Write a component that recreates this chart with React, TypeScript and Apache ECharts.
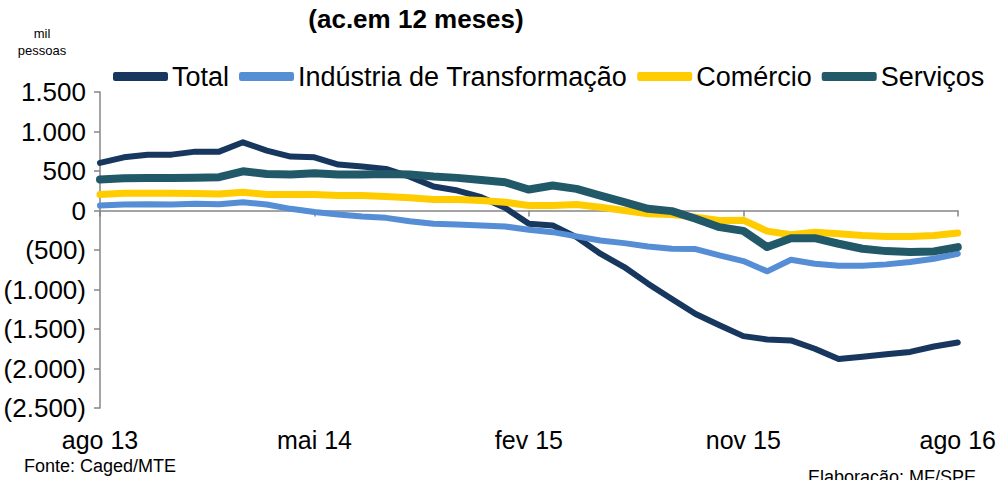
import React, { useEffect, useRef } from "react";
import * as echarts from "echarts";

const months = [
  "ago 13","set 13","out 13","nov 13","dez 13","jan 14","fev 14","mar 14","abr 14",
  "mai 14","jun 14","jul 14","ago 14","set 14","out 14","nov 14","dez 14","jan 15",
  "fev 15","mar 15","abr 15","mai 15","jun 15","jul 15","ago 15","set 15","out 15",
  "nov 15","dez 15","jan 16","fev 16","mar 16","abr 16","mai 16","jun 16","jul 16","ago 16",
];

const total = [602, 673, 707, 707, 745, 745, 863, 758, 682, 673, 581, 556, 527, 429, 303, 253, 168, 34, -168, -189, -337, -547, -716, -926, -1120, -1310, -1452, -1590, -1633, -1645, -1750, -1880, -1850, -1819, -1790, -1722, -1670];
const industria = [63, 76, 80, 76, 84, 80, 105, 76, 21, -20, -51, -76, -93, -135, -168, -177, -189, -202, -244, -274, -328, -379, -413, -455, -484, -488, -568, -640, -770, -623, -674, -699, -699, -682, -653, -611, -547];
const comercio = [202, 219, 219, 219, 215, 210, 231, 202, 202, 202, 189, 189, 177, 160, 139, 139, 126, 105, 63, 63, 76, 42, 0, -42, -51, -84, -126, -122, -261, -307, -274, -295, -316, -328, -328, -316, -286];
const servicos = [391, 408, 410, 410, 415, 421, 496, 463, 455, 470, 455, 455, 463, 455, 429, 413, 387, 358, 265, 316, 274, 189, 105, 21, -8, -105, -211, -258, -463, -350, -350, -421, -484, -514, -526, -518, -463];

const seriesNames = ["Total", "Indústria de Transformação", "Comércio", "Serviços"];
const seriesColors = ["#17375E", "#558ED5", "#FFCC00", "#215968"];
const seriesWidths = [6, 6, 7, 8];

const FONT = "'Liberation Sans', Arial, sans-serif";

function fmt(v: number): string {
  const a = Math.abs(v);
  const s = a.toString().replace(/\B(?=(\d{3})+(?!\d))/g, ".");
  return v < 0 ? "(" + s + ")" : s;
}

export default function App() {
  const ref = useRef<HTMLDivElement>(null);
  useEffect(() => {
    if (!ref.current) return;
    const chart = echarts.init(ref.current, null, { renderer: "svg" });
    const data = [total, industria, comercio, servicos];
    chart.setOption({
      animation: false,
      backgroundColor: "#ffffff",
      textStyle: { fontFamily: FONT },
      graphic: [
        {
          type: "text",
          x: 416,
          y: 6,
          style: { text: "(ac.em 12 meses)", font: `bold 26px ${FONT}`, fill: "#000", textAlign: "center" },
        },
        {
          type: "text",
          x: 42,
          y: 25,
          style: { text: "mil\npessoas", font: `13px ${FONT}`, fill: "#000", textAlign: "center", lineHeight: 17 },
        },
        {
          type: "text",
          x: 24,
          y: 457,
          style: { text: "Fonte: Caged/MTE", font: `18px ${FONT}`, fill: "#000" },
        },
        {
          type: "text",
          x: 808,
          y: 468,
          style: { text: "Elaboração: MF/SPE", font: `18px ${FONT}`, fill: "#000" },
        },
      ],
      legend: {
        left: 108,
        top: 58,
        itemWidth: 55,
        itemHeight: 9,
        itemGap: 10,
        icon: "roundRect",
        textStyle: { fontSize: 27, color: "#000", fontFamily: FONT, padding: [0, 0, 0, -1] },
        data: seriesNames,
      },
      grid: { left: 100, right: 41, top: 92, bottom: 72, containLabel: false },
      xAxis: [
        {
          type: "category",
          data: months,
          boundaryGap: false,
          axisLine: { onZero: true, lineStyle: { color: "#868686", width: 1.5 } },
          axisTick: { show: true, interval: 8, length: 6, lineStyle: { color: "#868686", width: 1.5 } },
          axisLabel: { show: false },
          splitLine: { show: false },
        },
        {
          type: "category",
          data: months,
          boundaryGap: false,
          position: "bottom",
          axisLine: { show: false, onZero: false },
          axisTick: { show: false },
          axisLabel: { show: true, interval: 8, fontSize: 25, color: "#000", fontFamily: FONT, margin: 19 },
          splitLine: { show: false },
        },
      ],
      yAxis: {
        type: "value",
        min: -2500,
        max: 1500,
        interval: 500,
        axisLine: { show: true, lineStyle: { color: "#868686", width: 1.5 } },
        axisTick: { show: true, length: 6, lineStyle: { color: "#868686", width: 1.5 } },
        axisLabel: { fontSize: 26, color: "#000", fontFamily: FONT, margin: 14, formatter: (v: number) => fmt(v) },
        splitLine: { show: false },
      },
      series: seriesNames.map((name, i) => ({
        name,
        type: "line",
        data: data[i],
        xAxisIndex: 0,
        showSymbol: false,
        symbol: "none",
        color: seriesColors[i],
        lineStyle: { color: seriesColors[i], width: seriesWidths[i], cap: "round", join: "round" },
        z: 2 + i,
      })),
    });
    return () => chart.dispose();
  }, []);
  return <div ref={ref} style={{ width: 999, height: 480, position: "absolute", left: 0, top: 0 }} />;
}
